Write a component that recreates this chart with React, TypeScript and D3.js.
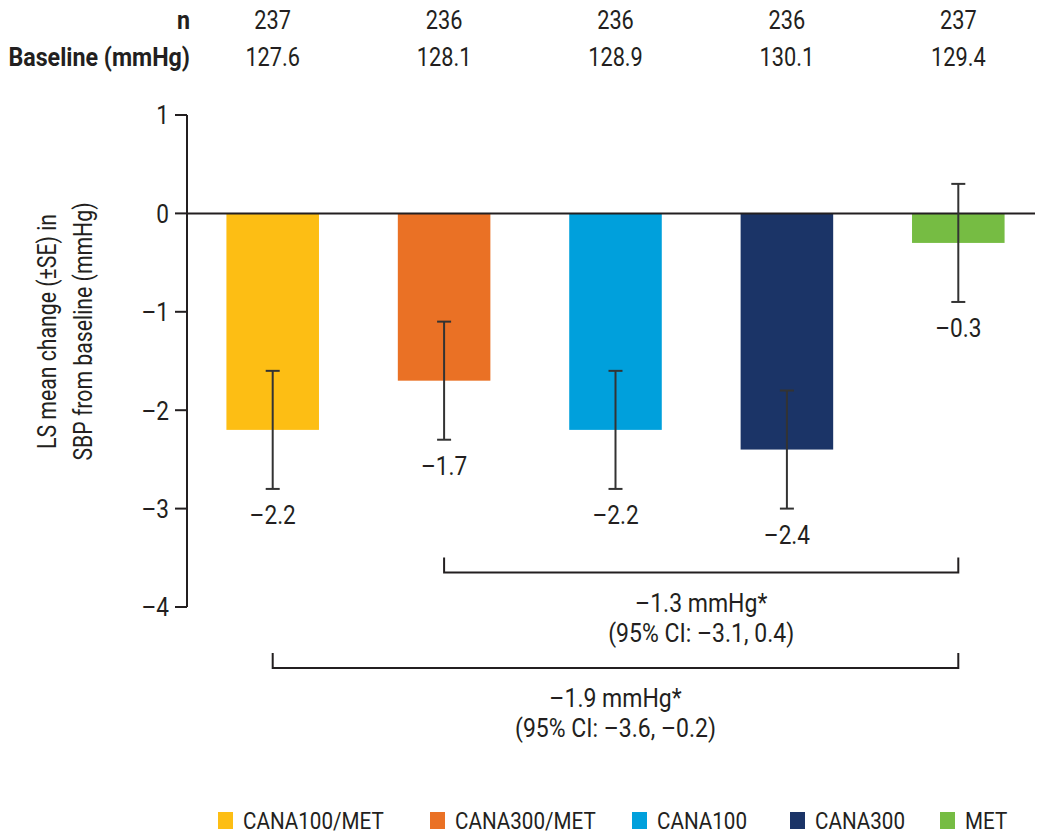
import React from "react";
import * as d3 from "d3";

const groups = ["CANA100/MET", "CANA300/MET", "CANA100", "CANA300", "MET"];
const colors = ["#FDBE14", "#EA7125", "#00A0DC", "#1B3467", "#76BC43"];
const values = [-2.2, -1.7, -2.2, -2.4, -0.3];
const se = [0.6, 0.6, 0.6, 0.6, 0.6];
const nValues = ["237", "236", "236", "236", "237"];
const baselines = ["127.6", "128.1", "128.9", "130.1", "129.4"];
const yTicks = [1, 0, -1, -2, -3, -4];
const brackets = [
  { from: 1, to: 4, level: -3.65, line1: "\u20131.3 mmHg*", line2: "(95% CI: \u20133.1, 0.4)" },
  { from: 0, to: 4, level: -4.62, line1: "\u20131.9 mmHg*", line2: "(95% CI: \u20133.6, \u20130.2)" },
];

const W = 1040;
const H = 834;
const FONT = "Roboto, 'Liberation Sans', sans-serif";
const INK = "#231f20";

type TProps = {
  x: number;
  y: number;
  anchor?: "start" | "middle" | "end";
  size?: number;
  weight?: string;
  rotate?: number;
  sx?: number;
  dy?: string;
  children: React.ReactNode;
};

function T({ x, y, anchor = "middle", size = 24, weight = "normal", rotate = 0, sx = 0.87, dy, children }: TProps) {
  return (
    <text
      transform={`translate(${x},${y}) rotate(${rotate}) scale(${sx},1)`}
      textAnchor={anchor}
      fontSize={size}
      fontWeight={weight}
      fill={INK}
      dy={dy}
    >
      {children}
    </text>
  );
}

export default function App() {
  const y = d3.scaleLinear().domain([1, -4]).range([115, 607]);
  const x = d3.scaleBand<string>().domain(groups).range([187, 1044]).paddingInner(0.46).paddingOuter(0.23);
  const bw = x.bandwidth();
  const cx = (i: number) => (x(groups[i]) as number) + bw / 2;
  const cap = 7;

  const legendX = [218, 430, 632, 790, 940];

  return (
    <svg width={W} height={H} style={{ position: "absolute", left: 0, top: 0, fontFamily: FONT }}>
      {/* header */}
      <T x={190} y={29} anchor="end" weight="bold" size={25} sx={0.93}>n</T>
      <T x={190} y={66} anchor="end" weight="bold" size={25} sx={0.93}>Baseline (mmHg)</T>
      {groups.map((g, i) => (
        <g key={"h" + g}>
          <T x={cx(i)} y={29} size={25}>{nValues[i]}</T>
          <T x={cx(i)} y={66} size={25}>{baselines[i]}</T>
        </g>
      ))}

      {/* bars */}
      {groups.map((g, i) => (
        <rect key={"b" + g} x={x(g)} y={y(0)} width={bw} height={y(values[i]) - y(0)} fill={colors[i]} />
      ))}

      {/* axis */}
      <line x1={187} x2={187} y1={y(1)} y2={y(-4)} stroke={INK} strokeWidth={2} />
      {yTicks.map((t) => (
        <g key={"t" + t}>
          <line x1={175} x2={187} y1={y(t)} y2={y(t)} stroke={INK} strokeWidth={2} />
          <T x={169} y={y(t)} dy="0.36em" anchor="end" size={26}>
            {t < 0 ? "\u2013" + Math.abs(t) : String(t)}
          </T>
        </g>
      ))}
      <line x1={187} x2={1035} y1={y(0)} y2={y(0)} stroke={INK} strokeWidth={2} />

      <T x={56} y={y(-1.2)} rotate={-90} size={25} sx={0.85}>LS mean change (±SE) in</T>
      <T x={92} y={y(-1.2)} rotate={-90} size={25} sx={0.85}>SBP from baseline (mmHg)</T>

      {/* error bars */}
      {groups.map((g, i) => {
        const hi = y(values[i] + se[i]);
        const lo = y(values[i] - se[i]);
        return (
          <g key={"e" + g} stroke="#333" strokeWidth={2}>
            <line x1={cx(i)} x2={cx(i)} y1={hi} y2={lo} />
            <line x1={cx(i) - cap} x2={cx(i) + cap} y1={hi} y2={hi} />
            <line x1={cx(i) - cap} x2={cx(i) + cap} y1={lo} y2={lo} />
          </g>
        );
      })}
      {groups.map((g, i) => (
        <T key={"v" + g} x={cx(i)} y={y(values[i] - se[i]) + 35} size={26}>
          {"\u2013" + Math.abs(values[i]).toFixed(1)}
        </T>
      ))}

      {/* brackets */}
      {brackets.map((b, k) => {
        const by = y(b.level);
        const x1 = cx(b.from);
        const x2 = cx(b.to);
        const mid = (x1 + x2) / 2;
        return (
          <g key={"br" + k}>
            <path d={`M${x1},${by - 15}V${by}H${x2}V${by - 15}`} fill="none" stroke={INK} strokeWidth={2} />
            <T x={mid} y={by + 39} size={25} sx={0.92}>{b.line1}</T>
            <T x={mid} y={by + 69} size={25} sx={0.92}>{b.line2}</T>
          </g>
        );
      })}

      {/* legend */}
      {groups.map((g, i) => (
        <g key={"l" + g}>
          <rect x={legendX[i]} y={812} width={15} height={17} fill={colors[i]} />
          <T x={legendX[i] + 25} y={829} anchor="start" size={24} sx={0.86}>{g}</T>
        </g>
      ))}
    </svg>
  );
}
